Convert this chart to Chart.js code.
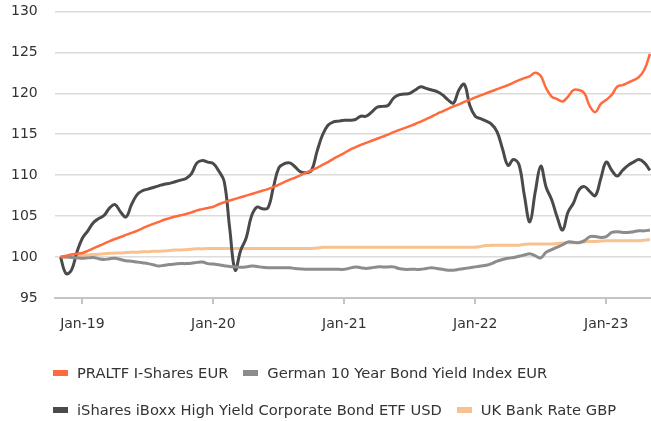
<!DOCTYPE html>
<html>
<head>
<meta charset="utf-8">
<script src="https://cdn.jsdelivr.net/npm/chart.js@4.4.1/dist/chart.umd.min.js"></script>
<style>
  html, body { margin: 0; padding: 0; background: #fff; }
  #wrap { position: relative; width: 651px; height: 421px; }
  #legend {
    position: absolute; left: 53px; top: 354px; width: 598px;
    display: flex; flex-wrap: wrap;
    font-family: "DejaVu Sans", sans-serif; font-size: 14.7px; color: #333;
  }
  .item { display: flex; align-items: center; height: 37px; margin-right: 15px; white-space: nowrap; }
  .box { width: 15px; height: 6px; margin-right: 9px; }
</style>
</head>
<body>
<div id="wrap">
  <canvas id="chart"></canvas>
  <div id="legend"></div>
</div>
<script>
// semi-monthly observations
const dates = [
  "2018-11-01", "2018-11-16", "2018-12-01", "2018-12-16",
  "2019-01-01", "2019-01-16", "2019-02-01", "2019-02-16", "2019-03-01", "2019-03-16",
  "2019-04-01", "2019-04-16", "2019-05-01", "2019-05-16", "2019-06-01", "2019-06-16",
  "2019-07-01", "2019-07-16", "2019-08-01", "2019-08-16", "2019-09-01", "2019-09-16",
  "2019-10-01", "2019-10-16", "2019-11-01", "2019-11-16", "2019-12-01", "2019-12-16",
  "2020-01-01", "2020-01-16", "2020-02-01", "2020-02-16", "2020-03-01", "2020-03-16",
  "2020-04-01", "2020-04-16", "2020-05-01", "2020-05-16", "2020-06-01", "2020-06-16",
  "2020-07-01", "2020-07-16", "2020-08-01", "2020-08-16", "2020-09-01", "2020-09-16",
  "2020-10-01", "2020-10-16", "2020-11-01", "2020-11-16", "2020-12-01", "2020-12-16",
  "2021-01-01", "2021-01-16", "2021-02-01", "2021-02-16", "2021-03-01", "2021-03-16",
  "2021-04-01", "2021-04-16", "2021-05-01", "2021-05-16", "2021-06-01", "2021-06-16",
  "2021-07-01", "2021-07-16", "2021-08-01", "2021-08-16", "2021-09-01", "2021-09-16",
  "2021-10-01", "2021-10-16", "2021-11-01", "2021-11-16", "2021-12-01", "2021-12-16",
  "2022-01-01", "2022-01-16", "2022-02-01", "2022-02-16", "2022-03-01", "2022-03-16",
  "2022-04-01", "2022-04-16", "2022-05-01", "2022-05-16", "2022-06-01", "2022-06-16",
  "2022-07-01", "2022-07-16", "2022-08-01", "2022-08-16", "2022-09-01", "2022-09-16",
  "2022-10-01", "2022-10-16", "2022-11-01", "2022-11-16", "2022-12-01", "2022-12-16",
  "2023-01-01", "2023-01-16", "2023-02-01", "2023-02-16", "2023-03-01", "2023-03-16",
  "2023-04-01", "2023-04-16", "2023-05-01"
];

const praltf = [
  100.0, 100.15, 100.3, 100.4,
  100.5, 100.75, 101.05, 101.35, 101.65, 101.95, 102.2, 102.45, 102.7, 102.95, 103.2, 103.5,
  103.8, 104.05, 104.3, 104.55, 104.75, 104.95, 105.1, 105.25, 105.45, 105.7, 105.85, 106.0,
  106.15, 106.45, 106.7, 106.9, 107.1, 107.3, 107.5, 107.7, 107.9, 108.1, 108.3, 108.55,
  108.85, 109.15, 109.45, 109.7, 110.0, 110.3, 110.6, 110.9, 111.25, 111.6, 112.0, 112.35,
  112.7, 113.1, 113.4, 113.7, 113.95, 114.2, 114.45, 114.7, 114.95, 115.25, 115.5, 115.75,
  116.0, 116.25, 116.55, 116.85, 117.15, 117.5, 117.8, 118.1, 118.4, 118.65, 118.95, 119.2,
  119.5, 119.75, 120.0, 120.25, 120.5, 120.75, 121.0, 121.3, 121.6, 121.85, 122.1, 122.5,
  122.1, 120.6, 119.6, 119.3, 119.0, 119.6, 120.4, 120.4, 120.0, 118.4, 117.7, 118.7,
  119.2, 119.8, 120.8, 121.0, 121.3, 121.6, 122.0, 122.9, 124.8
];

const germanBond = [
  100.0, 100.0, 99.95, 99.9,
  99.85, 99.9, 99.95, 99.8, 99.7, 99.8, 99.85, 99.7, 99.55, 99.5, 99.4, 99.3,
  99.2, 99.05, 98.9, 99.0, 99.1, 99.15, 99.2, 99.2, 99.25, 99.35, 99.4, 99.2,
  99.15, 99.05, 98.95, 98.85, 98.8, 98.75, 98.8, 98.9, 98.85, 98.75, 98.7, 98.7,
  98.7, 98.7, 98.7, 98.6, 98.55, 98.5, 98.5, 98.5, 98.5, 98.5, 98.5, 98.5,
  98.5, 98.65, 98.8, 98.7, 98.6, 98.7, 98.8, 98.8, 98.8, 98.8, 98.6, 98.5,
  98.5, 98.5, 98.5, 98.6, 98.7, 98.6, 98.5, 98.4, 98.4, 98.5, 98.6, 98.7,
  98.8, 98.9, 99.0, 99.2, 99.5, 99.7, 99.85, 99.95, 100.1, 100.25, 100.4, 100.15,
  99.9, 100.6, 100.9, 101.2, 101.5, 101.85, 101.8, 101.75, 102.0, 102.5, 102.5, 102.4,
  102.5, 103.0, 103.1, 103.0, 103.0, 103.1, 103.2, 103.2, 103.3
];

const iBoxx = [
  100.0, 98.0, 98.4, 100.6,
  102.3, 103.2, 104.2, 104.7, 105.1, 106.0, 106.4, 105.5, 104.9, 106.4, 107.6, 108.1,
  108.3, 108.5, 108.7, 108.9, 109.0, 109.2, 109.4, 109.6, 110.2, 111.5, 111.8, 111.6,
  111.4, 110.5, 109.2, 103.5, 98.4, 100.8, 102.3, 105.0, 106.1, 105.9, 106.0, 108.5,
  110.9, 111.4, 111.5, 111.0, 110.4, 110.3, 110.6, 112.9, 114.9, 116.1, 116.5, 116.6,
  116.7, 116.7, 116.8, 117.2, 117.2, 117.7, 118.3, 118.4, 118.5, 119.4, 119.8, 119.9,
  120.0, 120.4, 120.8, 120.6, 120.4, 120.2, 119.8, 119.2, 118.8, 120.4, 121.1, 118.5,
  117.2, 116.9, 116.6, 116.2, 115.3, 113.2, 111.2, 111.9, 111.3, 107.5, 104.3, 108.0,
  111.1, 108.5, 107.0, 104.9, 103.3, 105.5, 106.6, 108.2, 108.6, 108.0, 107.5, 109.6,
  111.6, 110.6, 109.9, 110.6, 111.2, 111.6, 111.9, 111.5, 110.6
];

const ukBankRate = [
  100.0, 100.05, 100.1, 100.15,
  100.2, 100.25, 100.3, 100.35, 100.4, 100.45, 100.5, 100.5, 100.55, 100.6, 100.6, 100.65,
  100.65, 100.7, 100.7, 100.75, 100.8, 100.85, 100.85, 100.9, 100.95, 101.0, 101.0, 101.05,
  101.05, 101.05, 101.05, 101.05, 101.05, 101.05, 101.05, 101.05, 101.05, 101.05, 101.05, 101.05,
  101.05, 101.05, 101.05, 101.05, 101.05, 101.05, 101.05, 101.1, 101.2, 101.2, 101.2, 101.2,
  101.2, 101.2, 101.2, 101.2, 101.2, 101.2, 101.2, 101.2, 101.2, 101.2, 101.2, 101.2,
  101.2, 101.2, 101.2, 101.2, 101.2, 101.2, 101.2, 101.2, 101.2, 101.2, 101.2, 101.2,
  101.2, 101.3, 101.4, 101.45, 101.45, 101.45, 101.45, 101.45, 101.45, 101.55, 101.6, 101.6,
  101.6, 101.6, 101.6, 101.65, 101.7, 101.75, 101.75, 101.8, 101.85, 101.9, 101.9, 101.95,
  102.0, 102.0, 102.0, 102.0, 102.0, 102.0, 102.0, 102.05, 102.15
];

const seriesNames = [
  "PRALTF I-Shares EUR",
  "German 10 Year Bond Yield Index EUR",
  "iShares iBoxx High Yield Corporate Bond ETF USD",
  "UK Bank Rate GBP"
];
const seriesColors = ["#ff6b3d", "#8c8c8c", "#4a4a4a", "#f9c18f"];
const seriesValues = [praltf, germanBond, iBoxx, ukBankRate];

const tickDates = ["2019-01-01", "2020-01-01", "2021-01-01", "2022-01-01", "2023-01-01"];
const tickLabels = ["Jan-19", "Jan-20", "Jan-21", "Jan-22", "Jan-23"];
const axisStart = "2018-10-15";
const axisEnd = "2023-05-04";

// months since Jan 2018, so the x axis can stay linear
function toMonth(d) {
  const [y, m, day] = d.split("-").map(Number);
  return (y - 2018) * 12 + (m - 1) + (day - 1) / 30;
}

const xs = dates.map(toMonth);
const tickMonths = tickDates.map(toMonth);

const datasets = seriesNames.map((name, k) => ({
  label: name,
  data: seriesValues[k].map((v, i) => ({ x: xs[i], y: v })),
  borderColor: seriesColors[k],
  backgroundColor: seriesColors[k],
  borderWidth: k === 0 ? 2.5 : 3,
  pointRadius: 0,
  tension: 0.4,
  fill: false,
}));

new Chart(document.getElementById("chart"), {
  type: "line",
  data: { datasets },
  options: {
    responsive: true,
    maintainAspectRatio: false,
    animation: false,
    layout: { autoPadding: false, padding: { left: 8, top: 10, right: 0, bottom: 76 } },
    plugins: {
      legend: { display: false },
      tooltip: { enabled: false },
    },
    scales: {
      x: {
        type: "linear",
        min: toMonth(axisStart),
        max: toMonth(axisEnd),
        afterBuildTicks: (scale) => {
          scale.ticks = tickMonths.map((v) => ({ value: v }));
        },
        grid: {
          drawOnChartArea: false,
          drawTicks: true,
          tickLength: 6,
          color: "#c4c4c4",
          lineWidth: 2,
        },
        border: { color: "#c4c4c4", width: 2 },
        ticks: {
          padding: 0,
          color: "#333",
          // tall line box pushes the labels down, like the source
          font: { family: "'DejaVu Sans', sans-serif", size: 14, lineHeight: "41px" },
          maxRotation: 0,
          callback: (v) => tickLabels[tickMonths.indexOf(v)] || "",
        },
      },
      y: {
        min: 95,
        max: 130,
        grid: {
          display: true,
          drawOnChartArea: true,
          color: "#dcdcdc",
          lineWidth: 1.5,
          drawTicks: true,
          tickLength: 14,
          tickColor: "rgba(0,0,0,0)",
        },
        border: { display: false },
        ticks: {
          stepSize: 5,
          padding: 3,
          color: "#333",
          font: { family: "'DejaVu Sans', sans-serif", size: 14 },
        },
      },
    },
  },
});

// legend below the plot, two rows like the source
const legendEl = document.getElementById("legend");
seriesNames.forEach((name, k) => {
  const item = document.createElement("div");
  item.className = "item";
  const box = document.createElement("span");
  box.className = "box";
  box.style.background = seriesColors[k];
  const text = document.createElement("span");
  text.textContent = name;
  item.appendChild(box);
  item.appendChild(text);
  legendEl.appendChild(item);
});
</script>
</body>
</html>
